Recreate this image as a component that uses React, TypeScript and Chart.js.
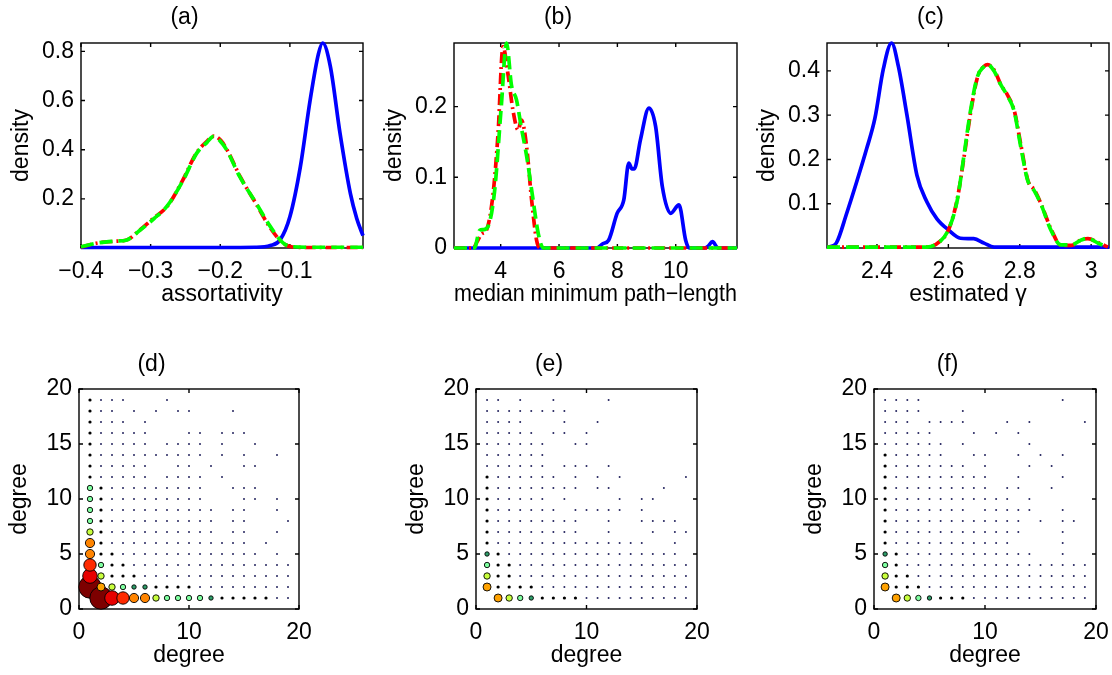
import React, { useEffect, useRef } from "react";
import { Chart, registerables } from "chart.js";

Chart.register(...registerables);

const FONT_FAMILY = "'Liberation Sans', Arial, Helvetica, sans-serif";
const FONT_SIZE = 23;

// ---------- (a) assortativity ----------
const A_X_TICKS = [-0.4, -0.3, -0.2, -0.1];
const A_Y_TICKS = [0.2, 0.4, 0.6, 0.8];
const A_BLUE_X = [-0.4, -0.2, -0.15, -0.128, -0.114, -0.1, -0.085, -0.071, -0.059, -0.053, -0.042, -0.028, -0.013, -0.004, 0.005];
const A_BLUE_Y = [0.002, 0.002, 0.003, 0.01, 0.033, 0.127, 0.33, 0.6, 0.79, 0.834, 0.74, 0.467, 0.22, 0.12, 0.05];
const A_GREEN_X = [-0.4, -0.377, -0.35, -0.334, -0.315, -0.295, -0.277, -0.253, -0.234, -0.219, -0.21, -0.2, -0.191, -0.172, -0.148, -0.128, -0.109, -0.095, -0.07, -0.03, 0.005];
const A_GREEN_Y = [0.005, 0.02, 0.028, 0.033, 0.073, 0.12, 0.168, 0.277, 0.385, 0.43, 0.453, 0.435, 0.4, 0.29, 0.18, 0.087, 0.019, 0.005, 0.003, 0.003, 0.003];
const A_RED_X = [-0.4, -0.375, -0.352, -0.333, -0.316, -0.296, -0.276, -0.254, -0.235, -0.22, -0.209, -0.199, -0.19, -0.171, -0.149, -0.129, -0.11, -0.096, -0.07, -0.03, 0.005];
const A_RED_Y = [0.004, 0.021, 0.027, 0.034, 0.072, 0.121, 0.17, 0.275, 0.383, 0.432, 0.455, 0.437, 0.398, 0.288, 0.182, 0.085, 0.02, 0.004, 0.002, 0.002, 0.002];

// ---------- (b) median minimum path-length ----------
const B_X_TICKS = [4, 6, 8, 10];
const B_Y_TICKS = [0, 0.1, 0.2];
const B_BLUE_X = [2.4, 7.3, 7.5, 7.7, 7.99, 8.22, 8.39, 8.5, 8.58, 8.79, 9.08, 9.31, 9.54, 9.83, 10.11, 10.34, 10.46, 11.0, 11.1, 11.26, 11.45, 12.1];
const B_BLUE_Y = [0, 0, 0.006, 0.011, 0.049, 0.068, 0.12, 0.112, 0.112, 0.153, 0.198, 0.172, 0.087, 0.049, 0.061, 0.011, 0, 0, 0.002, 0.009, 0, 0];
const B_RED_X = [2.4, 3.05, 3.22, 3.35, 3.51, 3.74, 3.91, 4.08, 4.25, 4.42, 4.6, 4.71, 4.89, 5.06, 5.23, 5.35, 12.1];
const B_RED_Y = [0, 0, 0.011, 0.02, 0.025, 0.077, 0.162, 0.285, 0.246, 0.195, 0.167, 0.181, 0.143, 0.068, 0.011, 0, 0];
const B_GREEN_X = [2.4, 3.1, 3.28, 3.4, 3.56, 3.79, 4.02, 4.2, 4.37, 4.54, 4.71, 4.89, 5.11, 5.29, 5.46, 12.1];
const B_GREEN_Y = [0, 0, 0.025, 0.026, 0.03, 0.08, 0.2, 0.29, 0.23, 0.21, 0.17, 0.13, 0.068, 0.02, 0, 0];

// ---------- (c) estimated gamma ----------
const C_X_TICKS = [2.4, 2.6, 2.8, 3];
const C_Y_TICKS = [0.1, 0.2, 0.3, 0.4];
const C_BLUE_X = [2.26, 2.268, 2.286, 2.315, 2.343, 2.371, 2.394, 2.418, 2.441, 2.46, 2.484, 2.512, 2.54, 2.568, 2.6, 2.634, 2.671, 2.7, 2.728, 3.05];
const C_BLUE_Y = [0.002, 0.003, 0.011, 0.078, 0.149, 0.224, 0.292, 0.405, 0.463, 0.41, 0.3, 0.164, 0.104, 0.066, 0.041, 0.022, 0.021, 0.011, 0.002, 0.002];
const C_GREEN_X = [2.26, 2.54, 2.577, 2.6, 2.625, 2.643, 2.662, 2.681, 2.7, 2.709, 2.728, 2.746, 2.765, 2.784, 2.803, 2.822, 2.84, 2.859, 2.887, 2.915, 2.944, 2.972, 2.99, 3.019, 3.047];
const C_GREEN_Y = [0.002, 0.002, 0.015, 0.041, 0.108, 0.205, 0.31, 0.386, 0.41, 0.415, 0.4, 0.37, 0.344, 0.31, 0.228, 0.153, 0.13, 0.1, 0.041, 0.007, 0.007, 0.018, 0.022, 0.011, 0.002];
const C_RED_X = [2.26, 2.54, 2.578, 2.601, 2.624, 2.644, 2.663, 2.682, 2.701, 2.71, 2.729, 2.747, 2.766, 2.785, 2.804, 2.823, 2.841, 2.86, 2.888, 2.916, 2.945, 2.973, 2.991, 3.02, 3.047];
const C_RED_Y = [0.002, 0.002, 0.016, 0.042, 0.107, 0.206, 0.309, 0.387, 0.411, 0.414, 0.401, 0.369, 0.345, 0.309, 0.229, 0.152, 0.131, 0.099, 0.042, 0.006, 0.006, 0.019, 0.021, 0.012, 0.002];

// ---------- (d)(e)(f) degree-degree frequency classes ----------
// rows: degree 19 (top) .. 1 (bottom); columns: degree 1..19; char = frequency class (hex, 0 = none)
const DEG_X_TICKS = [0, 10, 20];
const DEG_Y_TICKS = [0, 5, 10, 15, 20];
const D_GRID = [
  "2111000100000000000",
  "2110101011000100000",
  "2111010000000000000",
  "2111110001101110000",
  "2111110111101001000",
  "2111111111101010010",
  "2111110011010011000",
  "2111110111101000000",
  "4211111111100111000",
  "4211111111100011010",
  "4211111111110110010",
  "4211111111110110001",
  "5211111111110110010",
  "7211111111111110100",
  "7221111111111111010",
  "8422111111111111111",
  "9522211111111111111",
  "a654332222111111111",
  "0a98775444432222211",
];
const E_GRID = [
  "1101001000010000000",
  "1111111100000000000",
  "1111000100100000000",
  "1111101101000000000",
  "1111110011000000000",
  "1111110000000000000",
  "1111110111010000000",
  "2111111010101000001",
  "2111111110110000100",
  "2111110100001011000",
  "2111111011111010000",
  "2111111110010011110",
  "2111111110010001011",
  "2111111111111110010",
  "3211111111111111110",
  "4221111111111111111",
  "5221111111111111111",
  "6222211111111111111",
  "0654322221111111111",
];
const F_GRID = [
  "1111000000000000100",
  "1111000100000000000",
  "1110111100010100001",
  "1111100010101000000",
  "1111110100000100000",
  "2111110011001010100",
  "2111111101000101000",
  "2111111111001000100",
  "2111111111011001000",
  "2111111111110100000",
  "2111111101111100100",
  "2111111111111010110",
  "2111111111111000100",
  "2111111111110000100",
  "3211111111111100100",
  "4211111111111111111",
  "5221111111111111111",
  "6222111111111111111",
  "0654322211111111111",
];

// marker style per frequency class
const CLASS_RADIUS = [0, 1.0, 1.6, 2.2, 2.7, 3.2, 4.0, 4.6, 6.2, 7.3, 11.2];
const CLASS_COLOR = ["#ffffff", "#23235e", "#000000", "#2f9e6a", "#7fffa0", "#c8ff3c", "#ffa200", "#ff8400", "#ff2a00", "#e60000", "#7d0000"];

const MARGIN_X = 75;

const boxPlugin = {
  id: "matlabBox",
  beforeDatasetsDraw(chart: any) {
    const { ctx, chartArea: a, scales } = chart;
    const L = 4;
    ctx.save();
    ctx.strokeStyle = "#000";
    ctx.lineWidth = 1.4;
    ctx.strokeRect(a.left, a.top, a.right - a.left, a.bottom - a.top);
    ctx.beginPath();
    scales.x.ticks.forEach((t: any) => {
      const p = scales.x.getPixelForValue(t.value);
      ctx.moveTo(p, a.bottom);
      ctx.lineTo(p, a.bottom - L);
      ctx.moveTo(p, a.top);
      ctx.lineTo(p, a.top + L);
    });
    scales.y.ticks.forEach((t: any) => {
      const p = scales.y.getPixelForValue(t.value);
      ctx.moveTo(a.left, p);
      ctx.lineTo(a.left + L, p);
      ctx.moveTo(a.right, p);
      ctx.lineTo(a.right - L, p);
    });
    ctx.stroke();
    ctx.restore();
  },
};

type Spec = {
  title: string;
  left: number;
  top: number;
  plotW: number;
  height: number;
  titlePad: { top: number; bottom: number };
  xAxisH: number;
  xTitlePadBottom: number;
  xMin: number;
  xMax: number;
  yMin: number;
  yMax: number;
  xTicks: number[];
  yTicks: number[];
  xFmt: (v: number) => string;
  yFmt: (v: number) => string;
  xLabel: string;
  yLabel: string;
  type: "line" | "scatter";
  datasets: any[];
};

function buildConfig(s: Spec): any {
  const font = { family: FONT_FAMILY, size: FONT_SIZE };
  return {
    type: s.type,
    data: { datasets: s.datasets },
    plugins: [boxPlugin],
    options: {
      animation: false,
      responsive: false,
      events: [],
      layout: { padding: { left: 0, right: MARGIN_X, top: 0, bottom: 0 } },
      plugins: {
        legend: { display: false },
        tooltip: { enabled: false },
        title: {
          display: true,
          text: s.title,
          color: "#000",
          font: { ...font, weight: "normal" },
          padding: s.titlePad,
        },
      },
      scales: {
        x: {
          type: "linear",
          min: s.xMin,
          max: s.xMax,
          grid: { display: false, drawTicks: false },
          border: { display: false },
          ticks: {
            color: "#000",
            font,
            padding: 9.7,
            autoSkip: false,
            maxRotation: 0,
            callback: (v: number) => s.xFmt(v),
          },
          afterBuildTicks: (sc: any) => {
            sc.ticks = s.xTicks.map((v) => ({ value: v }));
          },
          afterFit: (sc: any) => {
            sc.height = s.xAxisH;
          },
          title: {
            display: true,
            text: s.xLabel,
            color: "#000",
            font,
            padding: { top: 0, bottom: s.xTitlePadBottom },
          },
        },
        y: {
          type: "linear",
          min: s.yMin,
          max: s.yMax,
          grid: { display: false, drawTicks: false },
          border: { display: false },
          ticks: {
            color: "#000",
            font,
            padding: 7,
            autoSkip: false,
            callback: (v: number) => s.yFmt(v),
          },
          afterBuildTicks: (sc: any) => {
            sc.ticks = s.yTicks.map((v) => ({ value: v }));
          },
          afterFit: (sc: any) => {
            sc.width = MARGIN_X;
          },
          title: {
            display: true,
            text: s.yLabel,
            color: "#000",
            font,
            padding: { top: 2.2, bottom: 0 },
          },
        },
      },
    },
  };
}

const zip = (xs: number[], ys: number[]) => xs.map((x, i) => ({ x, y: ys[i] }));

function densitySets(bx: number[], by: number[], rx: number[], ry: number[], gx: number[], gy: number[]) {
  const common = {
    pointRadius: 0,
    borderWidth: 3.7,
    fill: false,
    cubicInterpolationMode: "monotone",
    clip: false,
    borderCapStyle: "butt",
  };
  return [
    { ...common, label: "green", data: zip(gx, gy), borderColor: "#00ff00", borderDash: [13, 6] },
    { ...common, label: "red", data: zip(rx, ry), borderColor: "#ff0000", borderDash: [11, 4, 2, 4] },
    { ...common, label: "blue", data: zip(bx, by), borderColor: "#0000ff" },
  ];
}

function gridPoints(grid: string[]) {
  const pts: { x: number; y: number; c: number }[] = [];
  const n = grid.length;
  for (let x = 1; x <= 19; x++) {
    for (let y = 1; y <= n; y++) {
      const ch = grid[n - y][x - 1];
      const c = parseInt(ch, 16);
      if (c > 0) pts.push({ x, y, c });
    }
  }
  return pts;
}

function scatterSets(grid: string[]) {
  return [
    {
      label: "freq",
      data: gridPoints(grid),
      clip: false,
      pointRadius: (ctx: any) => (ctx.raw ? CLASS_RADIUS[ctx.raw.c] : 0),
      pointBackgroundColor: (ctx: any) => (ctx.raw ? CLASS_COLOR[ctx.raw.c] : "#000"),
      pointBorderColor: (ctx: any) => (ctx.raw && ctx.raw.c <= 2 ? CLASS_COLOR[ctx.raw.c] : "#000"),
      pointBorderWidth: (ctx: any) => (ctx.raw && ctx.raw.c <= 2 ? 0 : 0.9),
    },
  ];
}

const minusFmt = (v: number) => (v < 0 ? "\u2212" : "") + Math.abs(v).toFixed(1);
const oneDec = (v: number) => v.toFixed(1);
const plainFmt = (v: number) => String(v);
const zeroOrOne = (v: number) => (v === 0 ? "0" : v.toFixed(1));
const cFmt = (v: number) => (Number.isInteger(v) ? String(v) : v.toFixed(1));

const TOP = { top: 0, height: 320, titlePad: { top: 4.2, bottom: 11.2 }, xAxisH: 72, xTitlePadBottom: 11.2 };
const BOT = { top: 340, height: 335, titlePad: { top: 11.2, bottom: 10.2 }, xAxisH: 66, xTitlePadBottom: 5.2 };

const SPECS: Spec[] = [
  {
    ...TOP, title: "(a)", left: 81, plotW: 282, type: "line",
    xMin: -0.4, xMax: 0.005, yMin: 0, yMax: 0.834, xTicks: A_X_TICKS, yTicks: A_Y_TICKS,
    xFmt: minusFmt, yFmt: oneDec, xLabel: "assortativity", yLabel: "density",
    datasets: densitySets(A_BLUE_X, A_BLUE_Y, A_RED_X, A_RED_Y, A_GREEN_X, A_GREEN_Y),
  },
  {
    ...TOP, title: "(b)", left: 454, plotW: 283, type: "line",
    xMin: 2.4, xMax: 12.1, yMin: 0, yMax: 0.29, xTicks: B_X_TICKS, yTicks: B_Y_TICKS,
    xFmt: plainFmt, yFmt: zeroOrOne, xLabel: "median minimum path\u2212length", yLabel: "density",
    datasets: densitySets(B_BLUE_X, B_BLUE_Y, B_RED_X, B_RED_Y, B_GREEN_X, B_GREEN_Y),
  },
  {
    ...TOP, title: "(c)", left: 827, plotW: 282, type: "line",
    xMin: 2.26, xMax: 3.05, yMin: 0, yMax: 0.463, xTicks: C_X_TICKS, yTicks: C_Y_TICKS,
    xFmt: cFmt, yFmt: oneDec, xLabel: "estimated \u03b3", yLabel: "density",
    datasets: densitySets(C_BLUE_X, C_BLUE_Y, C_RED_X, C_RED_Y, C_GREEN_X, C_GREEN_Y),
  },
  {
    ...BOT, title: "(d)", left: 79, plotW: 220, type: "scatter",
    xMin: 0, xMax: 20, yMin: 0, yMax: 20, xTicks: DEG_X_TICKS, yTicks: DEG_Y_TICKS,
    xFmt: plainFmt, yFmt: plainFmt, xLabel: "degree", yLabel: "degree",
    datasets: scatterSets(D_GRID),
  },
  {
    ...BOT, title: "(e)", left: 476, plotW: 221, type: "scatter",
    xMin: 0, xMax: 20, yMin: 0, yMax: 20, xTicks: DEG_X_TICKS, yTicks: DEG_Y_TICKS,
    xFmt: plainFmt, yFmt: plainFmt, xLabel: "degree", yLabel: "degree",
    datasets: scatterSets(E_GRID),
  },
  {
    ...BOT, title: "(f)", left: 874, plotW: 222, type: "scatter",
    xMin: 0, xMax: 20, yMin: 0, yMax: 20, xTicks: DEG_X_TICKS, yTicks: DEG_Y_TICKS,
    xFmt: plainFmt, yFmt: plainFmt, xLabel: "degree", yLabel: "degree",
    datasets: scatterSets(F_GRID),
  },
];

function Panel({ spec }: { spec: Spec }) {
  const ref = useRef<HTMLCanvasElement | null>(null);
  const w = spec.plotW + 2 * MARGIN_X;
  useEffect(() => {
    if (!ref.current) return;
    const chart = new Chart(ref.current, buildConfig(spec));
    return () => chart.destroy();
  }, []);
  return (
    <canvas
      ref={ref}
      width={w}
      height={spec.height}
      style={{
        position: "absolute",
        left: spec.left - MARGIN_X,
        top: spec.top,
        width: w,
        height: spec.height,
      }}
    />
  );
}

export default function App() {
  return (
    <div
      style={{
        position: "absolute",
        left: 0,
        top: 0,
        width: 1112,
        height: 675,
        overflow: "hidden",
        background: "#ffffff",
      }}
    >
      {SPECS.map((s) => (
        <Panel key={s.title} spec={s} />
      ))}
    </div>
  );
}
